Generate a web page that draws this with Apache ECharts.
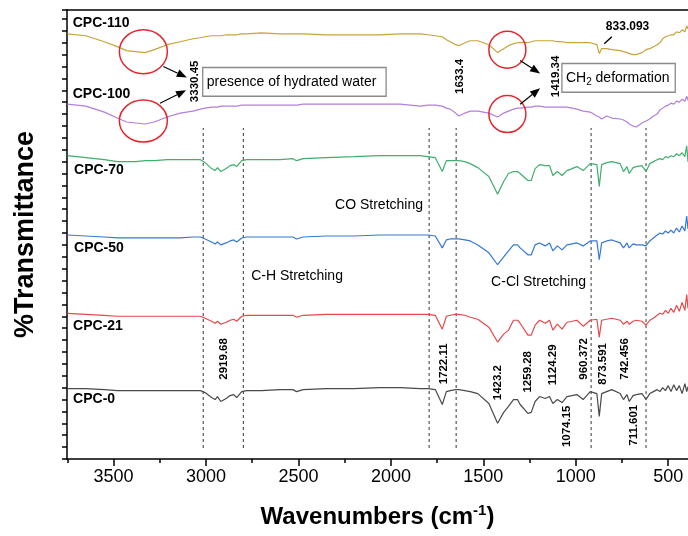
<!DOCTYPE html>
<html><head><meta charset="utf-8">
<script src="https://cdn.jsdelivr.net/npm/echarts@6/dist/echarts.min.js"></script>
<style>html,body{margin:0;padding:0;background:#fff}#c{width:688px;height:536px}</style>
</head><body><div id="c"></div>
<script>
// ---------- DATA (wavenumber grid, offset transmittance values) ----------
const wavenumbers = [3750,3650,3550,3480,3430,3380,3330,3280,3210,3140,3070,3030,
 3005,2970,2951,2938,2920,2891,2870,2850,2834,2807,2780,
 2700,2600,2530,2510,2475,2350,2200,2060,1950,1842,1800,1760,
 1722,1700,1679,1650,1633,1600,1571,1530,1470,1423,1390,1364,1337,1315,1301,
 1259,1241,1220,1196,1165,1142,1124,1100,1074,1048,1020,994,960,922,886,
 873,860,833,805,760,742,723,711,690,673,642,620,600,580,
 560,545,530,515,500,485,470,455,440,425,410,400,393];

const cpc110 = [429,427,421,416,412,411,410,413,418,421,424,425,
 426,427,427,427,427,428,428,428,428,429,429,
 430,429,429,429,429,428,428,428,429,429,428,427,
 426,423,421,418,417,420,422,422,418,410,414,417,419,420,420,
 420,421,422,422,422,422,422,421,421,420,420,420,420,420,418,
 409,414,414,413,412,411,410,409,408,408,410,413,414,416,
 418,420,424,426,427,428,428,431,430,433,431,437,434];

const cpc100 = [358,356,350,344,340,339,338,340,345,349,351,353,
 354,355,355,355,356,356,356,356,356,357,357,
 357,357,357,357,358,358,358,358,358,356,357,357,
 356,354,353,349,346,349,351,351,349,345,349,351,353,354,354,
 355,355,356,356,355,355,355,355,355,355,354,353,351,350,346,
 345,343,346,344,343,342,340,338,336,335,339,341,343,346,
 348,352,354,356,357,359,358,361,360,363,361,366,362];

const cpc70 = [306,304,302,300,300,300,301,301,302,302,302,302,
 299,293,291,294,290,293,296,297,295,301,302,
 302,302,303,301,303,304,305,306,306,306,305,304,
 290,301,301,301,301,300,298,294,285,267,280,288,290,290,288,
 281,281,293,297,296,296,286,290,286,291,293,295,291,298,297,
 275,297,299,300,298,290,295,288,294,295,296,290,298,300,
 302,303,302,305,304,306,305,308,306,309,305,316,300];

const cpc50 = [226,225,224,223,223,223,223,223,223,223,224,224,
 222,219,217,219,216,218,220,221,219,223,224,
 224,224,224,222,224,225,225,226,226,226,226,225,
 213,221,222,222,222,221,220,216,208,196,204,210,216,216,213,
 206,206,216,218,215,218,210,215,211,216,217,218,215,220,220,
 201,218,220,221,218,213,218,213,217,216,216,215,220,223,
 226,228,227,230,228,231,228,233,229,235,230,245,232];

const cpc21 = [147,146,145,144,144,144,144,144,144,144,144,144,
 142,139,137,139,136,138,140,141,139,144,145,
 145,145,145,143,145,146,146,146,146,146,146,145,
 131,144,145,146,146,145,143,141,133,118,126,130,140,140,137,
 125,125,135,140,137,140,130,136,131,138,139,140,134,140,141,
 123,140,141,142,140,136,139,136,139,140,139,135,140,142,
 145,147,146,150,147,152,148,155,149,158,150,166,152];

const cpc0 = [71,71,70,69,69,69,69,69,69,69,69,69,
 67,62,60,63,58,61,64,65,62,68,69,
 69,70,70,68,70,71,71,72,72,71,71,70,
 55,68,69,70,70,69,68,66,56,36,47,53,60,60,55,
 46,47,58,63,61,63,56,60,57,63,64,65,60,68,66,
 43,66,68,70,66,60,65,58,64,65,66,60,66,68,
 70,68,72,69,74,68,75,69,74,66,76,68,73];

const seriesNames = ['CPC-110','CPC-100','CPC-70','CPC-50','CPC-21','CPC-0'];
const seriesValues = [cpc110, cpc100, cpc70, cpc50, cpc21, cpc0];
const xTickLabels = [500,1000,1500,2000,2500,3000,3500];
const xMinorTicks = [750,1250,1750,2250,2750,3250,3750];
const dashedWavenumbers = [3015,2798,1793,1647,917,620];

// ---------- ANNOTATIONS (anchored in data coordinates) ----------
const seriesLabelAt = [[3721,440],[3721,368],[3714,291],[3714,213],[3719,134],[3719,60]];
const peakLabels = [['3330.45',3059,381],['1633.4',1629,386],['1419.34',1109,386],['2919.68',2906,101],
 ['1722.11',1716,96],['1423.2',1424,77],['1259.28',1259,88],['1124.29',1126,95],['960.372',958,101],
 ['873.591',853,96],['742.456',737,101],['1074.15',1048,33],['711.601',688,34]];
const circleCentres = [[3339,411],[3339,341],[1370,413],[1370,348]];
const arrowEnds = [[[3231,396],[3104,385]],[[3249,359],[3108,372]],[[1301,402],[1193,389]],[[1301,358],[1193,374]]];
const boxNotes = [['presence of hydrated water',[3018,395],[2026,366]],['CH{sub|2} deformation',[1075,399],[462,370]]];
const notes = [['CO Stretching',2302,256],['C-H Stretching',2756,184],['C-Cl Stretching',1458,178]];
const note833 = ['833.093',[720,436],[[805,426],[846,419]]];

// ---------- STYLE ----------
const FONT = '"Liberation Sans", Arial, Helvetica, sans-serif';
const colors = ['#c9a23c','#b27fdc','#3fae6e','#3478d6','#e4494b','#4a4a4a'];
const dashRange = [11, 334];

const chart = echarts.init(document.getElementById('c'), null, {renderer:'canvas'});
const axisLineStyle = {color:'#000', width:1.5};
const xBase = {type:'value', min:393, max:3752, inverse:true, splitLine:{show:false}};

const series = seriesNames.map((n,k)=>({
  name:n, type:'line', xAxisIndex:0, yAxisIndex:0, showSymbol:false, silent:true,
  data: wavenumbers.map((w,i)=>[w, seriesValues[k][i]]),
  lineStyle:{color:colors[k], width:1.2}, itemStyle:{color:colors[k]}, z:3
}));
dashedWavenumbers.forEach(w=>{
  series.push({type:'line', showSymbol:false, silent:true, xAxisIndex:0, yAxisIndex:0,
    data:[[w,dashRange[0]],[w,dashRange[1]]],
    lineStyle:{color:'#555', width:1.2, type:[3,3]}, z:2});
});

chart.setOption({
  animation:false,
  grid:{left:67, right:0, top:10, bottom:73},
  xAxis:[
    Object.assign({}, xBase, {position:'bottom',
      axisLine:{show:true, lineStyle:axisLineStyle},
      axisTick:{show:true, customValues:xTickLabels, length:7, lineStyle:axisLineStyle},
      axisLabel:{show:true, customValues:xTickLabels, fontSize:18, color:'#000', margin:9, fontFamily:FONT, formatter:v=>String(v)},
      name:'Wavenumbers (cm{sup|-1})', nameLocation:'middle', nameGap:44,
      nameTextStyle:{fontSize:24, fontWeight:'bold', color:'#000', fontFamily:FONT, lineHeight:28,
        rich:{sup:{fontSize:15, fontWeight:'bold', color:'#000', fontFamily:FONT, verticalAlign:'top', lineHeight:14}}}
    }),
    Object.assign({}, xBase, {position:'bottom',
      axisLine:{show:false},
      axisTick:{show:true, customValues:xMinorTicks, length:4, lineStyle:axisLineStyle},
      axisLabel:{show:false}}),
    Object.assign({}, xBase, {position:'top',
      axisLine:{show:true, lineStyle:axisLineStyle}, axisTick:{show:false}, axisLabel:{show:false}})
  ],
  yAxis:[{type:'value', min:0, max:453, interval:12,
    axisLine:{show:true, lineStyle:axisLineStyle},
    axisTick:{show:true, length:5, lineStyle:axisLineStyle},
    axisLabel:{show:false}, splitLine:{show:false},
    name:'%Transmittance', nameLocation:'middle', nameRotate:90, nameGap:28,
    nameTextStyle:{fontSize:27, fontWeight:'bold', color:'#000', fontFamily:FONT}}],
  series
});

const px = p => chart.convertToPixel({xAxisIndex:0, yAxisIndex:0}, p);
const g = [];
seriesNames.forEach((n,k)=>{
  const p = px(seriesLabelAt[k]);
  g.push({type:'text', x:p[0], y:p[1], z:10, style:{text:n, fontSize:14, fontWeight:'bold', fontFamily:FONT, fill:'#000', align:'left', verticalAlign:'middle'}});
});
peakLabels.forEach(([t,w,v])=>{
  const p = px([w,v]);
  g.push({type:'text', x:p[0], y:p[1], rotation:Math.PI/2, z:10, style:{text:t, fontSize:11.5, fontWeight:'bold', fontFamily:FONT, fill:'#000', align:'center', verticalAlign:'middle'}});
});
const radii = [[24,22],[24,21],[18.5,18.5],[18.5,18.5]];
circleCentres.forEach((c,k)=>{
  const p = px(c);
  g.push({type:'ellipse', z:9, shape:{cx:p[0], cy:p[1], rx:radii[k][0], ry:radii[k][1]}, style:{fill:null, stroke:'#e5252b', lineWidth:1.5}});
});
function arrow(a,b){
  const p0=px(a), p1=px(b);
  const dx=p1[0]-p0[0], dy=p1[1]-p0[1], L=Math.hypot(dx,dy), ux=dx/L, uy=dy/L;
  const hl=10, hw=4;
  const base=[p1[0]-ux*hl, p1[1]-uy*hl];
  g.push({type:'line', z:10, shape:{x1:p0[0],y1:p0[1],x2:base[0],y2:base[1]}, style:{stroke:'#000', lineWidth:1.2}});
  g.push({type:'polygon', z:10, shape:{points:[p1,[base[0]-uy*hw, base[1]+ux*hw],[base[0]+uy*hw, base[1]-ux*hw]]}, style:{fill:'#000'}});
}
arrowEnds.forEach(e=>arrow(e[0],e[1]));
boxNotes.forEach(([t,a,b])=>{
  const p0=px(a), p1=px(b);
  g.push({type:'rect', z:9, shape:{x:p0[0], y:p0[1], width:p1[0]-p0[0], height:p1[1]-p0[1]}, style:{fill:'#fff', stroke:'#8a8a8a', lineWidth:1.3}});
  g.push({type:'text', z:10, x:p0[0]+4, y:(p0[1]+p1[1])/2, style:{text:t, fontSize:14, fontFamily:FONT, fill:'#000', align:'left', verticalAlign:'middle', lineHeight:18,
    rich:{sub:{fontSize:10, fontFamily:FONT, fill:'#000', verticalAlign:'bottom', lineHeight:10, padding:[8,0,0,0]}}}});
});
notes.forEach(([t,w,v])=>{
  const p=px([w,v]);
  g.push({type:'text', z:10, x:p[0], y:p[1], style:{text:t, fontSize:14, fontFamily:FONT, fill:'#000', align:'left', verticalAlign:'middle'}});
});
{
  const p=px(note833[1]);
  g.push({type:'text', z:10, x:p[0], y:p[1], style:{text:note833[0], fontSize:12, fontWeight:'bold', fontFamily:FONT, fill:'#000', align:'center', verticalAlign:'middle'}});
  const a=px(note833[2][0]), b=px(note833[2][1]);
  g.push({type:'line', z:10, shape:{x1:a[0],y1:a[1],x2:b[0],y2:b[1]}, style:{stroke:'#000', lineWidth:1.4}});
}
chart.setOption({graphic:g});
</script></body></html>
